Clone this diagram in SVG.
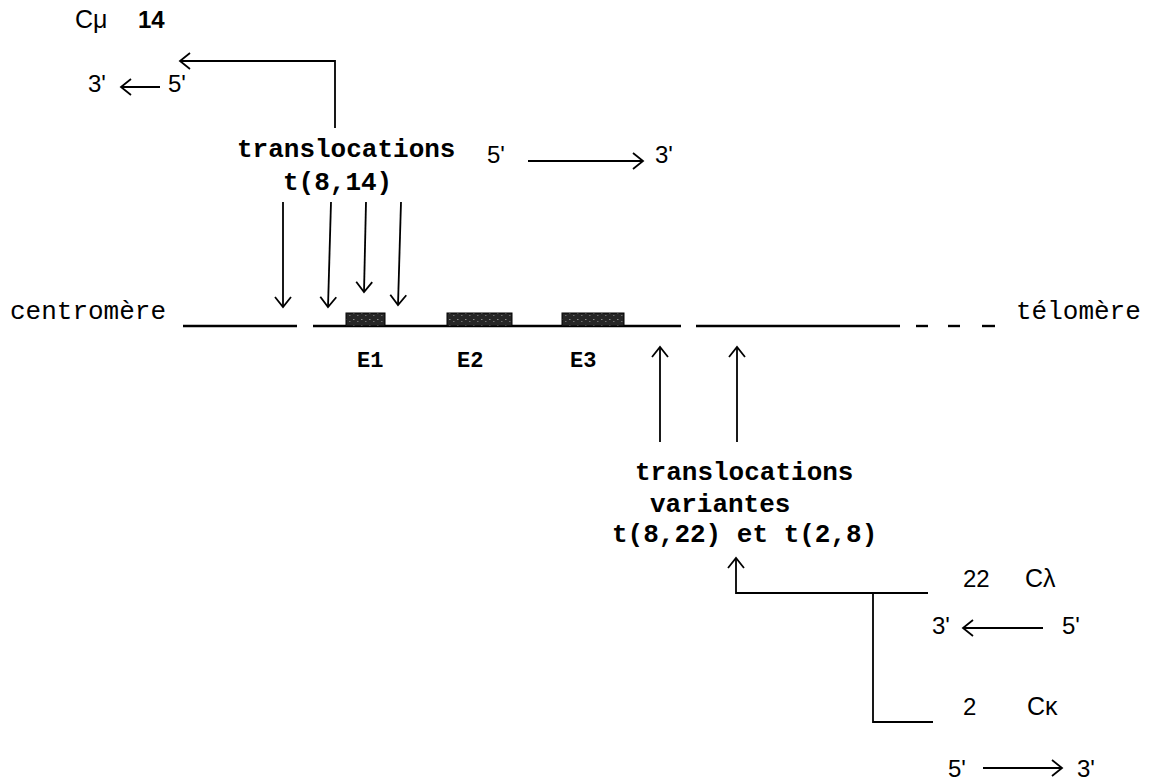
<svg xmlns="http://www.w3.org/2000/svg" width="1156" height="784" viewBox="0 0 1156 784">
<defs>
<style>
.mono{font-family:"Liberation Mono","DejaVu Sans Mono",monospace;font-size:26px;fill:#000}
.b{font-weight:bold}
.sans{font-family:"Liberation Sans","DejaVu Sans",sans-serif;font-size:24px;fill:#000}
.thin{font-family:"Liberation Sans","DejaVu Sans",sans-serif;font-size:25px;fill:#000;font-weight:normal}
.ln{stroke:#000;stroke-width:1.8;fill:none}
.chr{stroke:#000;stroke-width:2.4;fill:none}
.exon{fill:#333;stroke:#000;stroke-width:1}
</style>
<pattern id="speck" width="8" height="6" patternUnits="userSpaceOnUse">
<rect width="8" height="6" fill="#262626"/>
<rect x="1" y="1" width="1.5" height="1" fill="#8a8a8a"/>
<rect x="5" y="3" width="1.5" height="1" fill="#6e6e6e"/>
</pattern>
<marker id="ah" viewBox="0 0 20 20" refX="18" refY="10" markerWidth="20" markerHeight="20" markerUnits="userSpaceOnUse" orient="auto">
<path d="M8,2 L18,10 L8,18" fill="none" stroke="#000" stroke-width="1.8"/>
</marker>
</defs>
<rect width="1156" height="784" fill="#fff"/>

<g id="connectors">
<polyline class="ln" points="335,128 335,61 180,61" marker-end="url(#ah)"/>
<line class="ln" x1="160" y1="87" x2="121" y2="87" marker-end="url(#ah)"/>
<line class="ln" x1="528" y1="161" x2="643" y2="161" marker-end="url(#ah)"/>
<line class="ln" x1="283" y1="202" x2="283" y2="307" marker-end="url(#ah)"/>
<line class="ln" x1="331" y1="202" x2="328" y2="307" marker-end="url(#ah)"/>
<line class="ln" x1="366" y1="202" x2="364" y2="292" marker-end="url(#ah)"/>
<line class="ln" x1="401" y1="202" x2="398" y2="305" marker-end="url(#ah)"/>
<line class="ln" x1="660" y1="442" x2="660" y2="347" marker-end="url(#ah)"/>
<line class="ln" x1="737" y1="442" x2="737" y2="347" marker-end="url(#ah)"/>
<polyline class="ln" points="928,593 736,593 736,558" marker-end="url(#ah)"/>
<polyline class="ln" points="873,593 873,722 933,722"/>
<line class="ln" x1="1043" y1="628" x2="963" y2="628" marker-end="url(#ah)"/>
<line class="ln" x1="983" y1="768" x2="1062" y2="768" marker-end="url(#ah)"/>
</g>

<g id="chromosome">
<line class="chr" x1="183" y1="326" x2="297" y2="326"/>
<line class="chr" x1="313" y1="326" x2="681" y2="326"/>
<line class="chr" x1="696" y1="326" x2="900" y2="326"/>
<line class="chr" x1="916" y1="326" x2="928" y2="326"/>
<line class="chr" x1="948" y1="326" x2="960" y2="326"/>
<line class="chr" x1="982" y1="326" x2="995" y2="326"/>
</g>

<g id="exon-E1"><rect class="exon" x="346" y="313" width="39" height="13" fill="url(#speck)" style="fill:url(#speck)"/><text class="mono b" x="357" y="367" style="font-size:22px">E1</text></g>
<g id="exon-E2"><rect class="exon" x="447" y="313" width="65" height="13" style="fill:url(#speck)"/><text class="mono b" x="457" y="367" style="font-size:22px">E2</text></g>
<g id="exon-E3"><rect class="exon" x="562" y="313" width="62" height="13" style="fill:url(#speck)"/><text class="mono b" x="570" y="367" style="font-size:22px">E3</text></g>

<g id="centromere"><text class="mono" x="10" y="319">centromère</text></g>
<g id="telomere"><text class="mono" x="1016" y="319">télomère</text></g>

<g id="t814">
<text class="mono b" x="237" y="157">translocations</text>
<text class="mono b" x="283" y="190">t(8,14)</text>
</g>

<g id="cmu14">
<text class="thin" x="75" y="28">Cμ</text>
<text class="sans b" x="138" y="28">14</text>
<text class="sans" x="88" y="92">3'</text>
<text class="sans" x="168" y="92">5'</text>
</g>

<g id="strand-top">
<text class="sans" x="487" y="163">5'</text>
<text class="sans" x="655" y="163">3'</text>
</g>

<g id="variants">
<text class="mono b" x="635" y="480">translocations</text>
<text class="mono b" x="650" y="512">variantes</text>
<text class="mono b" x="612" y="542">t(8,22) et t(2,8)</text>
</g>

<g id="c22">
<text class="sans" x="963" y="587">22</text>
<text class="thin" x="1025" y="587">Cλ</text>
<text class="sans" x="932" y="634">3'</text>
<text class="sans" x="1062" y="634">5'</text>
</g>

<g id="c2">
<text class="sans" x="963" y="715">2</text>
<text class="thin" x="1027" y="715">Cκ</text>
<text class="sans" x="948" y="777">5'</text>
<text class="sans" x="1077" y="777">3'</text>
</g>
</svg>
